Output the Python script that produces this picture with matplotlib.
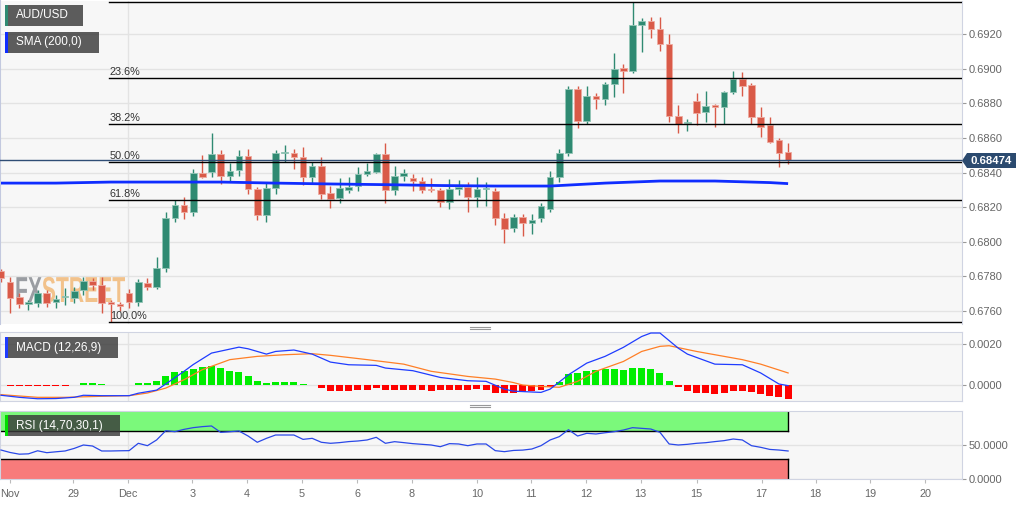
import numpy as np
import matplotlib.pyplot as plt
from matplotlib.patches import Rectangle, Polygon, PathPatch
from matplotlib.lines import Line2D
from matplotlib.textpath import TextPath
from matplotlib.font_manager import FontProperties
from matplotlib.transforms import Affine2D

plt.rcParams['font.family'] = ['Liberation Sans', 'DejaVu Sans']

W, H = 1032, 505

# AUD/USD 4h candles
opens = [0.67830, 0.67768, 0.67681, 0.67640, 0.67646, 0.67704, 0.67652, 0.67681, 0.67675, 0.67721,
         0.67773, 0.67750, 0.67650, 0.67640, 0.67704, 0.67652, 0.67762, 0.67739, 0.67848, 0.68137,
         0.68212, 0.68172, 0.68400, 0.68403, 0.68507, 0.68380, 0.68414, 0.68495, 0.68305, 0.68154,
         0.68310, 0.68510, 0.68512, 0.68490, 0.68374, 0.68437, 0.68282, 0.68253, 0.68299, 0.68322,
         0.68391, 0.68403, 0.68507, 0.68299, 0.68380, 0.68368, 0.68351, 0.68305, 0.68299, 0.68230,
         0.68305, 0.68316, 0.68259, 0.68305, 0.68293, 0.68137, 0.68079, 0.68143, 0.68108, 0.68137,
         0.68189, 0.68374, 0.68512, 0.68882, 0.68697, 0.68842, 0.68824, 0.68911, 0.69004, 0.68986,
         0.69252, 0.69275, 0.69229, 0.69142, 0.68726, 0.68686, 0.68813, 0.68750, 0.68790, 0.68778,
         0.68865, 0.68940, 0.68905, 0.68721, 0.68674, 0.68588, 0.68519]
highs = [0.67845, 0.67797, 0.67704, 0.67663, 0.67721, 0.67721, 0.67692, 0.67733, 0.67739, 0.67797,
         0.67790, 0.67797, 0.67663, 0.67652, 0.67727, 0.67785, 0.67790, 0.67911, 0.68172, 0.68241,
         0.68258, 0.68420, 0.68501, 0.68628, 0.68530, 0.68455, 0.68530, 0.68536, 0.68316, 0.68345,
         0.68530, 0.68559, 0.68536, 0.68547, 0.68461, 0.68490, 0.68322, 0.68368, 0.68374, 0.68432,
         0.68455, 0.68512, 0.68570, 0.68437, 0.68420, 0.68391, 0.68374, 0.68368, 0.68310, 0.68362,
         0.68357, 0.68345, 0.68374, 0.68345, 0.68310, 0.68166, 0.68160, 0.68160, 0.68160, 0.68224,
         0.68409, 0.68536, 0.68899, 0.68899, 0.68899, 0.68859, 0.68922, 0.69090, 0.69027, 0.69385,
         0.69292, 0.69298, 0.69298, 0.69200, 0.68790, 0.68709, 0.68859, 0.68870, 0.68796, 0.68870,
         0.68986, 0.68980, 0.68917, 0.68778, 0.68721, 0.68600, 0.68570]
lows = [0.67770, 0.67589, 0.67617, 0.67605, 0.67623, 0.67623, 0.67617, 0.67635, 0.67646, 0.67693,
        0.67721, 0.67589, 0.67536, 0.67600, 0.67617, 0.67629, 0.67721, 0.67727, 0.67825, 0.68114,
        0.68131, 0.68149, 0.68370, 0.68377, 0.68334, 0.68345, 0.68380, 0.68276, 0.68125, 0.68114,
        0.68276, 0.68461, 0.68420, 0.68328, 0.68340, 0.68247, 0.68195, 0.68224, 0.68282, 0.68293,
        0.68380, 0.68397, 0.68224, 0.68270, 0.68351, 0.68293, 0.68282, 0.68287, 0.68201, 0.68189,
        0.68270, 0.68172, 0.68201, 0.68207, 0.68097, 0.67994, 0.68056, 0.68033, 0.68045, 0.68114,
        0.68172, 0.68345, 0.68495, 0.68657, 0.68680, 0.68767, 0.68790, 0.68836, 0.68859, 0.68974,
        0.69096, 0.69177, 0.69102, 0.68692, 0.68628, 0.68640, 0.68674, 0.68692, 0.68663, 0.68680,
        0.68853, 0.68842, 0.68680, 0.68605, 0.68570, 0.68432, 0.68449]
closes = [0.67790, 0.67675, 0.67640, 0.67650, 0.67704, 0.67646, 0.67669, 0.67687, 0.67716, 0.67773,
          0.67750, 0.67646, 0.67640, 0.67630, 0.67652, 0.67768, 0.67739, 0.67848, 0.68137, 0.68212,
          0.68172, 0.68400, 0.68377, 0.68507, 0.68380, 0.68409, 0.68495, 0.68305, 0.68154, 0.68310,
          0.68512, 0.68516, 0.68490, 0.68374, 0.68437, 0.68276, 0.68247, 0.68310, 0.68316, 0.68391,
          0.68409, 0.68507, 0.68299, 0.68380, 0.68397, 0.68351, 0.68299, 0.68299, 0.68230, 0.68305,
          0.68316, 0.68259, 0.68305, 0.68310, 0.68137, 0.68073, 0.68143, 0.68108, 0.68125, 0.68206,
          0.68374, 0.68512, 0.68882, 0.68697, 0.68842, 0.68824, 0.68911, 0.68998, 0.68986, 0.69252,
          0.69275, 0.69229, 0.69142, 0.68726, 0.68680, 0.68692, 0.68744, 0.68784, 0.68778, 0.68865,
          0.68940, 0.68899, 0.68721, 0.68663, 0.68576, 0.68513, 0.68474]

# SMA(200) read at a few candles
sma_idx = [0, 6, 12, 18, 24, 30, 36, 42, 48, 54, 60, 66, 72, 78, 84, 86]
sma_val = [0.68339, 0.68339, 0.68345, 0.68345, 0.68345, 0.68339, 0.68334, 0.68330,
           0.68325, 0.68322, 0.68322, 0.68339, 0.68351, 0.68351, 0.68342, 0.68336]

# MACD histogram, one per candle
macd_hist = [-0.00002, -0.00003, -0.00007, -0.00007, -0.00007, -0.00007, -0.00007, -0.00006, 0.0, 0.00010,
             0.00010, 0.00005, 0.00001, 0.00001, 0.00001, 0.00008, 0.00011, 0.00021, 0.00042, 0.00062,
             0.00070, 0.00080, 0.00086, 0.00091, 0.00081, 0.00070, 0.00065, 0.00044, 0.00018, 0.00010,
             0.00015, 0.00015, 0.00013, 0.00003, 0.0, -0.00015, -0.00028, -0.00028, -0.00028, -0.00024,
             -0.00023, -0.00015, -0.00023, -0.00023, -0.00023, -0.00024, -0.00026, -0.00028, -0.00026, -0.00024,
             -0.00024, -0.00023, -0.00020, -0.00024, -0.00037, -0.00039, -0.00037, -0.00034, -0.00031, -0.00024,
             -0.00012, 0.00015, 0.00052, 0.00058, 0.00068, 0.00071, 0.00076, 0.00076, 0.00071, 0.00083,
             0.00085, 0.00076, 0.00060, 0.00020, -0.00010, -0.00031, -0.00041, -0.00041, -0.00044, -0.00037,
             -0.00028, -0.00028, -0.00036, -0.00044, -0.00052, -0.00060, -0.00067]

macd_idx = [0, 2, 4, 6, 8, 9, 11, 14, 15, 17, 18, 20, 21, 23, 26, 27, 29, 30, 32, 34, 36, 38,
            41, 42, 45, 48, 51, 53, 55, 56, 58, 59, 60, 62, 64, 66, 68, 70, 71, 72, 74, 75,
            78, 81, 83, 85, 86]
macd_val = [-0.00050, -0.00060, -0.00067, -0.00066, -0.00060, -0.00050, -0.00052, -0.00052,
            -0.00040, -0.00025, 0.00005, 0.00067, 0.00100, 0.00156, 0.00185, 0.00177, 0.00151,
            0.00164, 0.00171, 0.00151, 0.00112, 0.00099, 0.00096, 0.00083, 0.00070, 0.00037,
            0.00021, 0.00018, -0.00020, -0.00030, -0.00034, -0.00036, -0.00020, 0.00050, 0.00107,
            0.00140, 0.00184, 0.00237, 0.00254, 0.00254, 0.00180, 0.00151, 0.00102, 0.00099,
            0.00059, 0.00005, -0.00003]

signal_idx = [0, 4, 7, 11, 14, 16, 18, 20, 22, 25, 28, 31, 34, 36, 40, 44, 47, 51, 54, 56, 57,
              59, 61, 63, 65, 68, 70, 72, 73, 76, 79, 81, 83, 86]
signal_val = [-0.00047, -0.00060, -0.00060, -0.00055, -0.00052, -0.00039, -0.00015, 0.00026,
              0.00075, 0.00124, 0.00140, 0.00148, 0.00153, 0.00145, 0.00124, 0.00102, 0.00067,
              0.00042, 0.00029, 0.00012, 0.0, -0.00007, -0.00011, 0.00018, 0.00067, 0.00115,
              0.00164, 0.00189, 0.00192, 0.00164, 0.00140, 0.00124, 0.00102, 0.00059]

rsi = [42.6, 39.0, 36.5, 37.0, 41.5, 38.7, 40.0, 41.2, 45.0, 50.0,
       48.5, 41.2, 41.2, 41.5, 41.7, 52.5, 49.0, 57.4, 71.0, 69.6,
       73.0, 75.5, 77.0, 78.0, 68.6, 69.5, 70.6, 63.2, 54.0, 59.8,
       64.7, 64.7, 64.7, 58.3, 59.8, 54.0, 52.5, 53.5, 55.0, 55.9,
       57.4, 61.3, 52.5, 54.9, 53.5, 52.0, 51.0, 50.0, 47.5, 52.0,
       51.5, 49.0, 51.5, 51.5, 41.7, 40.2, 42.0, 42.5, 44.1, 49.0,
       57.4, 62.3, 72.5, 63.2, 67.2, 66.2, 68.0, 69.6, 72.0, 75.5,
       74.5, 73.5, 68.6, 51.5, 50.0, 51.0, 52.5, 53.4, 55.0, 56.4,
       58.8, 57.4, 49.0, 46.6, 43.5, 42.6, 41.2]

tick_pos = [1.0, 7.9, 13.9, 20.9, 26.9, 32.9, 38.9, 44.9, 52.0, 57.9, 63.9, 69.9, 76.0, 83.1, 89.0, 95.0, 101.0]
tick_lbl = ['Nov', '29', 'Dec', '3', '4', '5', '6', '8', '10', '11', '12', '13', '15', '17', '18', '19', '20']

price_ticks = [0.6760, 0.6780, 0.6800, 0.6820, 0.6840, 0.6860, 0.6880, 0.6900, 0.6920]
fib_ratios = [0.0, 0.236, 0.382, 0.5, 0.618, 1.0]
fib_names = ['', '23.6%', '38.2%', '50.0%', '61.8%', '100.0%']

GREEN = '#2f8a72'
RED = '#d95a48'
BG = '#f7f7f7'
GRID = '#e3e3e3'
FRAME = '#d0d4e2'
TXT = '#666666'


def rect(x0, y0, x1, y1):
    return [x0 / W, 1 - y1 / H, (x1 - x0) / W, (y1 - y0) / H]


fig = plt.figure(figsize=(W / 100, H / 100), dpi=100)
fig.patch.set_facecolor('white')
ax = fig.add_axes(rect(0, 1, 962, 324))
axm = fig.add_axes(rect(0, 332, 962, 401), sharex=ax)
axr = fig.add_axes(rect(0, 411, 962, 479), sharex=ax)

x = np.arange(len(closes))
o = np.array(opens)
c = np.array(closes)
h = np.array(highs)
l = np.array(lows)
last = x[-1]

for a in (ax, axm, axr):
    a.set_facecolor(BG)
    a.set_axisbelow(True)
    a.yaxis.tick_right()
    a.tick_params(axis='y', length=3, color='#999999', labelcolor=TXT, labelsize=8, pad=2)
    a.grid(axis='y', color=GRID, lw=1)
    a.axvline(tick_pos[2], color=GRID, lw=1, zorder=0.5)
    for s in a.spines.values():
        s.set_color(FRAME)
ax.set_xlim(-0.11, 105.0)

# --- price panel ---
ax.set_ylim(0.67525, 0.69391)
ax.set_yticks(price_ticks)
ax.yaxis.set_major_formatter(plt.FormatStrFormatter('%.4f'))
ax.tick_params(axis='x', bottom=False, labelbottom=False)
ax.spines['top'].set_visible(False)
ax.spines['bottom'].set_visible(False)
ax.spines['left'].set_color('#c3c9df')
ax.spines['left'].set_linewidth(1.5)

up = c >= o
cols = np.where(up, GREEN, RED)
edges = np.where(up, '#93c5b6', '#eeaaa0')
ax.vlines(x, l, h, colors=cols, lw=1, zorder=2)
body = np.maximum(np.abs(c - o), 0.00004)
ax.bar(x, body, bottom=np.minimum(o, c), width=0.72, color=cols,
       edgecolor=edges, linewidth=0.6, zorder=3)

ax.plot(sma_idx, sma_val, color='#0f2dff', lw=2, zorder=4, solid_capstyle='butt')

# fibonacci retracement from swing low to swing high
hi, lo = h.max(), l.min()
fib_x0 = int(np.argmin(l)) - 0.2
for r, name in zip(fib_ratios, fib_names):
    lvl = hi - r * (hi - lo)
    ax.plot([fib_x0, 105.0], [lvl, lvl], color='black', lw=1, zorder=4.5)
    if name:
        ax.text(fib_x0 + 0.1, lvl + 0.00006, name, fontsize=7.8, color='#333333',
                va='bottom', ha='left', zorder=5)

ax.axhline(c[-1], color='#2f4d75', lw=1, zorder=4.6)

# watermark
fp = FontProperties(family=['Liberation Sans', 'DejaVu Sans'], weight='bold')
tp_fx = TextPath((0, 0), 'FX', size=1, prop=fp)
tp_st = TextPath((0, 0), 'STREET', size=1, prop=fp)
w_fx = tp_fx.get_extents().x1
w_st = tp_st.get_extents().x1
sx = 110 / (w_fx + w_st)
sy = 26 / 0.72
base = H - 302
for tp, dx, colr in ((tp_fx, 0, '#9a9da2'), (tp_st, w_fx * sx, '#f2c28b')):
    pp = PathPatch(tp, facecolor=colr, edgecolor='none', zorder=1.5)
    pp.set_transform(Affine2D().scale(sx, sy).translate(15 + dx, base))
    ax.add_patch(pp)

# --- MACD panel ---
axm.set_ylim(-0.00078, 0.00259)
axm.set_yticks([0.0, 0.002])
axm.yaxis.set_major_formatter(plt.FormatStrFormatter('%.4f'))
axm.tick_params(axis='x', bottom=False, labelbottom=False)
hist = np.array(macd_hist)
hcols = np.where(hist >= 0, '#00ee00', '#ff0000')
axm.bar(x, hist, width=0.76, color=hcols, linewidth=0, zorder=2)
axm.plot(signal_idx, signal_val, color='#ff7f27', lw=0.9, zorder=3)
axm.plot(macd_idx, macd_val, color='#1f3cff', lw=0.9, zorder=3)

# --- RSI panel ---
axr.set_ylim(0, 100)
axr.set_yticks([0, 50])
axr.yaxis.set_major_formatter(plt.FormatStrFormatter('%.4f'))
axr.add_patch(Rectangle((-0.11, 70), last + 0.11, 30, facecolor='#7bf97b', edgecolor='none', zorder=1))
axr.add_patch(Rectangle((-0.11, 0), last + 0.11, 30, facecolor='#f87b7b', edgecolor='none', zorder=1))
axr.plot([-0.11, last], [70, 70], color='black', lw=1, zorder=2)
axr.plot([-0.11, last], [30, 30], color='black', lw=1, zorder=2)
axr.plot([last, last], [70, 100], color='black', lw=1, zorder=2)
axr.plot([last, last], [0, 30], color='black', lw=1, zorder=2)
axr.plot(x, rsi, color='#2a48e8', lw=0.9, zorder=3)
axr.set_xticks(tick_pos)
axr.set_xticklabels(tick_lbl)
axr.tick_params(axis='x', length=3, color='#bbbbbb', labelcolor=TXT, labelsize=7.8, pad=4)


def tag(x0, y0, x1, y1, text, bar):
    fig.add_artist(Rectangle((x0 / W, 1 - y1 / H), (x1 - x0) / W, (y1 - y0) / H,
                             transform=fig.transFigure, facecolor='#3a3a3a', alpha=0.82,
                             edgecolor='none', zorder=5))
    fig.add_artist(Rectangle((x0 / W, 1 - y1 / H), 2.5 / W, (y1 - y0) / H,
                             transform=fig.transFigure, facecolor=bar, edgecolor='none', zorder=6))
    fig.text((x0 + 11) / W, 1 - (y0 + y1) / 2 / H, text, color='white', fontsize=8.5,
             va='center', ha='left', zorder=7)


tag(5, 5, 83, 26, 'AUD/USD', GREEN)
tag(5, 32, 99, 53, 'SMA (200,0)', '#0f2dff')
tag(5, 337, 118, 358, 'MACD (12,26,9)', '#1f3cff')
tag(5, 415, 120, 436, 'RSI (14,70,30,1)', '#00dd00')

# panel separators
for yy in (326.5, 328.5, 404.5, 406.5):
    fig.add_artist(Line2D([470 / W, 490 / W], [1 - yy / H, 1 - yy / H], color='#999999', lw=0.8))

# last price tag
py = 160.7
fig.add_artist(Polygon([(962 / W, 1 - py / H), (967 / W, 1 - 153 / H), (1016 / W, 1 - 153 / H),
                        (1016 / W, 1 - 168 / H), (967 / W, 1 - 168 / H)],
                       closed=True, transform=fig.transFigure, facecolor='#2b4a6f',
                       edgecolor='none', zorder=5))
fig.text(991.5 / W, 1 - py / H, '%.5f' % c[-1], color='white', fontsize=8.2, fontweight='bold',
         ha='center', va='center', zorder=6)

fig.savefig('out.png', dpi=100, facecolor='white')
